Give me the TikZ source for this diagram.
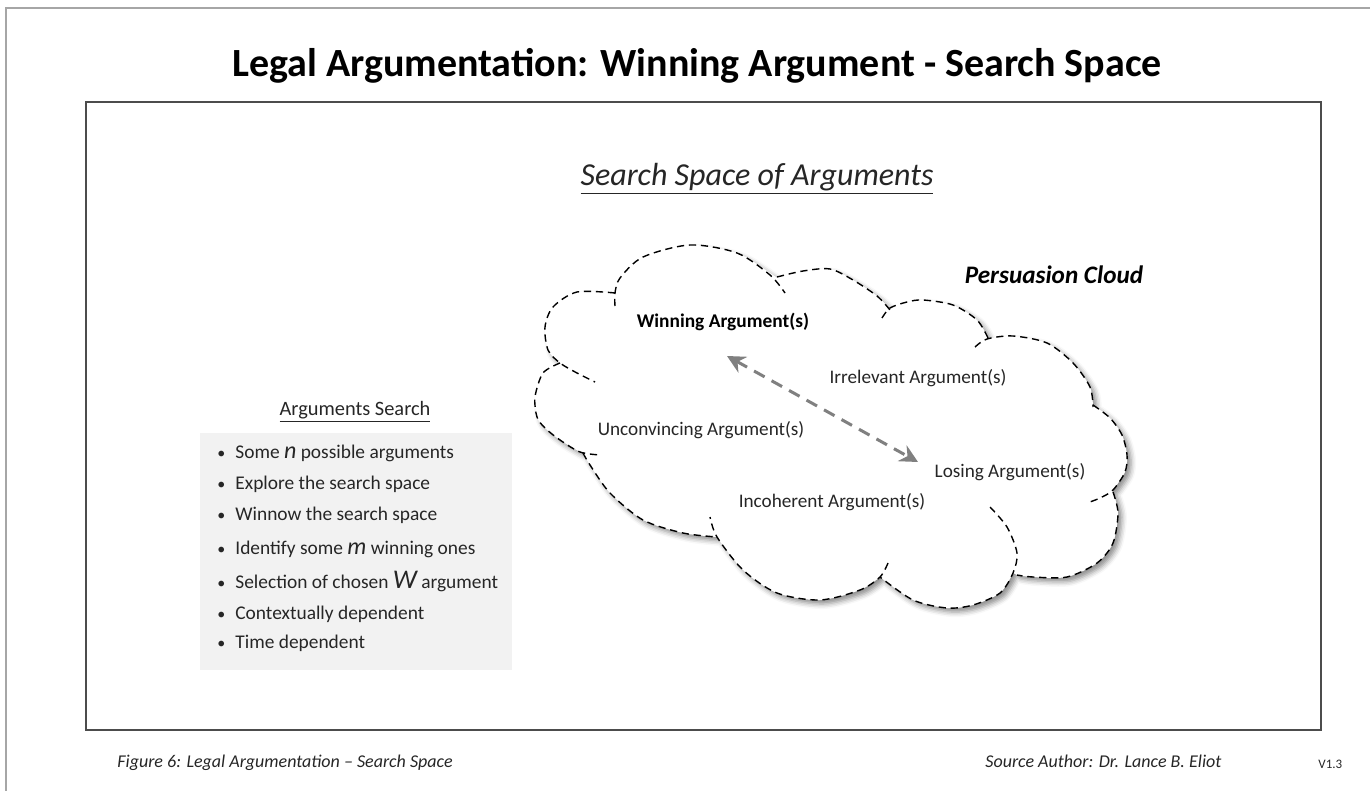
\documentclass[tikz,border=0pt]{standalone}
\usepackage{fontspec}
\setmainfont{Carlito}
\usetikzlibrary{arrows.meta,shadows.blur}
\definecolor{txt}{HTML}{262626}
\definecolor{boxgray}{HTML}{F2F2F2}
\definecolor{framegray}{HTML}{A6A6A6}
\definecolor{arrgray}{HTML}{808080}
\tikzset{
  lobe/.style={black, line width=0.7pt, dash pattern=on 3.6pt off 2.4pt, line cap=butt},
  lbl/.style={text=txt, font=\fontsize{9.6}{11}\selectfont, inner sep=0pt},
  bul/.style={text=txt, font=\fontsize{9.7}{11}\selectfont, inner sep=0pt, anchor=base west},
  foot/.style={text=txt, font=\itshape\fontsize{9}{11}\selectfont, inner sep=0pt, anchor=base west},
  twoarrow/.style={arrgray, line width=1.5pt, dash pattern=on 6pt off 4pt, {Stealth[length=9pt,width=9pt,inset=3pt]}-{Stealth[length=9pt,width=9pt,inset=3pt]}}
}
\newcommand{\varit}[1]{{\itshape\fontsize{12}{11}\selectfont #1}}
\begin{document}
\begin{tikzpicture}[x=0.5pt,y=-0.5pt]
\useasboundingbox (0,0) rectangle (1370,791);
% outer frame
\draw[framegray, line width=1pt] (6,791) -- (6,8) -- (1370,8);
% inner box
\draw[black!70, line width=0.7pt] (86,102) rectangle (1321,730);
% title
\node[font=\bfseries\fontsize{20}{24}\selectfont, text=black, inner sep=0pt] (title) at (697,66) {Legal Argumentation: Winning Argument - Search Space};
\node[font=\itshape\fontsize{16}{20}\selectfont, text=txt, inner sep=0pt] (sub) at (757,179) {\underline{Search Space of Arguments}};

% cloud fill with shadow
\fill[white, blur shadow={shadow xshift=2pt, shadow yshift=-2pt, shadow blur radius=2.5pt, shadow opacity=45}]
  plot[smooth] coordinates {(615,293) (620,278) (643,257) (690,245) (737,253) (770,273) (777,278)}
  -- plot[smooth] coordinates {(777,277) (803,271) (830,269) (853,280) (877,296) (890,309)}
  -- plot[smooth] coordinates {(890,308) (907,302) (923,300) (953,305) (977,320) (988,338)}
  -- plot[smooth] coordinates {(987,339) (1013,336) (1047,343) (1073,363) (1090,387) (1093,407)}
  -- plot[smooth] coordinates {(1093,405) (1110,418) (1122,435) (1127,455) (1125,472) (1113,490)}
  -- plot[smooth] coordinates {(1113,492) (1118,513) (1113,543) (1097,563) (1067,577) (1033,577) (1017,575)}
  -- plot[smooth] coordinates {(1013,573) (1000,593) (973,605) (947,608) (913,600) (880,577)}
  -- plot[smooth] coordinates {(880,577) (860,590) (820,600) (777,593) (743,570) (717,537)}
  -- plot[smooth] coordinates {(717,537) (683,533) (643,520) (610,493) (590,465) (583,453)}
  -- plot[smooth] coordinates {(580,452) (560,440) (545,428) (537,417) (535,397) (543,373) (560,363)}
  -- plot[smooth] coordinates {(560,363) (548,350) (545,327) (553,307) (577,292) (615,293)}
  -- cycle;
% cloud lobes (dashed)
\draw[lobe] plot[smooth] coordinates {(615,293) (577,292) (553,307) (545,327) (548,350) (560,363) (577,373) (595,382)};
\draw[lobe] plot[smooth] coordinates {(615,306) (615,293) (620,278) (643,257) (690,245) (737,253) (770,275) (785,293)};
\draw[lobe] plot[smooth] coordinates {(777,277) (803,271) (830,269) (853,280) (877,296) (890,310)};
\draw[lobe] plot[smooth] coordinates {(882,318) (890,308) (907,302) (923,300) (953,305) (977,320) (988,338)};
\draw[lobe] plot[smooth] coordinates {(975,347) (987,339) (1013,336) (1047,343) (1073,363) (1090,387) (1093,407)};
\draw[lobe] plot[smooth] coordinates {(1093,405) (1110,418) (1122,435) (1127,455) (1125,472) (1113,490) (1100,498) (1087,503)};
\draw[lobe] plot[smooth] coordinates {(1113,492) (1118,513) (1113,543) (1097,563) (1067,577) (1033,577) (1017,575)};
\draw[lobe] plot[smooth] coordinates {(990,507) (1007,527) (1017,553) (1013,573) (1000,593) (973,605) (947,608) (913,600) (880,577)};
\draw[lobe] plot[smooth] coordinates {(888,563) (880,577) (860,590) (820,600) (777,593) (743,570) (717,537) (710,517)};
\draw[lobe] plot[smooth] coordinates {(583,453) (590,465) (610,493) (643,520) (683,533) (717,537)};
\draw[lobe] plot[smooth] coordinates {(560,363) (543,373) (535,397) (537,417) (545,428) (560,440) (580,452) (600,455)};

% cloud labels
\node[font=\bfseries\itshape\fontsize{12.6}{14}\selectfont, text=black, inner sep=0pt] (pc) at (1054,275) {Persuasion Cloud};
\node[lbl, font=\bfseries\fontsize{9.7}{11}\selectfont, text=black] (win) at (723,322) {Winning Argument(s)};
\node[lbl] (irr) at (918,378) {Irrelevant Argument(s)};
\node[lbl] (unc) at (701,430) {Unconvincing Argument(s)};
\node[lbl] (los) at (1010,472) {Losing Argument(s)};
\node[lbl] (inc) at (832,502) {Incoherent Argument(s)};
\coordinate (aw) at (727,356);
\coordinate (al) at (918,462);
\draw[twoarrow] (aw) -- (al);

% arguments search
\node[text=txt, font=\fontsize{10.2}{12}\selectfont, inner sep=0pt] (as) at (355,412) {\underline{Arguments Search}};
\fill[boxgray] (200,433) rectangle (512,670);
\node[bul, font=\fontsize{8}{11}\selectfont] (b1) at (217,458) {\textbullet};
\node[bul] (t1) at (235,458) {Some \varit{n} possible arguments};
\node[bul, font=\fontsize{8}{11}\selectfont] (b2) at (217,489) {\textbullet};
\node[bul] (t2) at (235,489) {Explore the search space};
\node[bul, font=\fontsize{8}{11}\selectfont] (b3) at (217,520) {\textbullet};
\node[bul] (t3) at (235,520) {Winnow the search space};
\node[bul, font=\fontsize{8}{11}\selectfont] (b4) at (217,554) {\textbullet};
\node[bul] (t4) at (235,554) {Identify some \varit{m} winning ones};
\node[bul, font=\fontsize{8}{11}\selectfont] (b5) at (217,588) {\textbullet};
\node[bul] (t5) at (235,588) {Selection of chosen {\itshape\fontsize{13.5}{11}\selectfont W} argument};
\node[bul, font=\fontsize{8}{11}\selectfont] (b6) at (217,619) {\textbullet};
\node[bul] (t6) at (235,619) {Contextually dependent};
\node[bul, font=\fontsize{8}{11}\selectfont] (b7) at (217,648) {\textbullet};
\node[bul] (t7) at (235,648) {Time dependent};

% footer
\node[foot] (fig) at (117,767) {Figure 6: Legal Argumentation -- Search Space};
\node[foot] (src) at (985,767) {Source Author: Dr. Lance B. Eliot};
\node[text=txt, font=\fontsize{6.5}{8}\selectfont, inner sep=0pt, anchor=base west] (ver) at (1318,768) {V1.3};
\end{tikzpicture}
\end{document}
